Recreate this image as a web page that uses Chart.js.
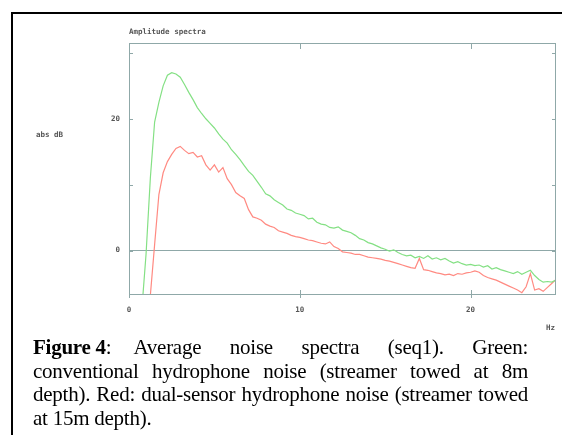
<!DOCTYPE html>
<html>
<head>
<meta charset="utf-8">
<script src="https://cdn.jsdelivr.net/npm/chart.js@4"></script>
<style>
  html, body { margin:0; padding:0; background:#fff; overflow:hidden; }
  body { width:562px; height:435px; position:relative; }
  .rule { position:absolute; background:#000; }
  #wrap { position:absolute; left:0; top:0; width:562px; height:435px; }
  .lab { position:absolute; font:bold 7.5px "DejaVu Sans Mono", monospace; color:#555; white-space:nowrap; }
  #caption { position:absolute; left:33px; top:336px; width:495px;
             font:21px "Liberation Serif", "Times New Roman", serif; letter-spacing:-0.25px;
             line-height:23.5px; color:#000; }
  #caption div { white-space:nowrap; }
  #caption .j { text-align:justify; text-align-last:justify; }
  .ib { display:inline-block; }
</style>
</head>
<body>
<div class="rule" style="left:11px;top:12px;width:551px;height:2px"></div>
<div class="rule" style="left:11px;top:12px;width:2px;height:423px"></div>
<div id="wrap"><canvas id="c" width="562" height="435"></canvas></div>
<div class="lab" style="left:129px;top:27px">Amplitude spectra</div>
<div class="lab" style="left:36px;top:130px">abs dB</div>
<div class="lab" style="left:546px;top:323px">Hz</div>
<div id="caption">
  <div class="j"><span class="ib"><b>Figure 4</b>:</span><span class="ib" style="width:22px"></span>Average noise spectra (seq1). Green:</div>
  <div class="j">conventional hydrophone noise (streamer towed at 8m</div>
  <div class="j">depth). Red: dual-sensor hydrophone noise (streamer towed</div>
  <div>at 15m depth).</div>
</div>
<script>
/* ─── données (Hz / dB) ────────────────────────────────────── */
const freqs = [
  0.75, 1.0, 1.25, 1.5, 1.75, 2.0, 2.25, 2.5, 2.75, 3.0, 3.25, 3.5, 3.75, 4.0, 4.25, 4.5, 4.75,
  5.0, 5.25, 5.5, 5.75, 6.0, 6.25, 6.5, 6.75, 7.0, 7.25, 7.5, 7.75, 8.0, 8.25, 8.5, 8.75,
  9.0, 9.25, 9.5, 9.75, 10.0, 10.25, 10.5, 10.75, 11.0, 11.25, 11.5, 11.75, 12.0, 12.25, 12.5, 12.75,
  13.0, 13.25, 13.5, 13.75, 14.0, 14.25, 14.5, 14.75, 15.0, 15.25, 15.5, 15.75, 16.0, 16.25, 16.5, 16.75,
  17.0, 17.25, 17.5, 17.75, 18.0, 18.25, 18.5, 18.75, 19.0, 19.25, 19.5, 19.75, 20.0, 20.25, 20.5, 20.75,
  21.0, 21.25, 21.5, 21.75, 22.0, 22.25, 22.5, 22.75, 23.0, 23.25, 23.5, 23.75, 24.0, 24.25, 24.5, 24.75, 25.0
];

const greenDb = [
  -9.0, -0.5, 11.0, 19.5, 22.5, 25.0, 26.6, 27.0, 26.8, 26.3, 25.2, 24.0, 22.9, 21.7, 20.8, 20.0, 19.3,
  18.6, 17.7, 16.9, 16.3, 15.3, 14.6, 13.8, 12.9, 12.0, 11.4, 10.5, 9.6, 8.6, 8.3, 7.7, 7.3,
  6.9, 6.3, 6.1, 5.7, 5.5, 5.3, 4.8, 4.9, 4.3, 4.0, 3.9, 3.5, 3.4, 3.6, 3.1, 2.9,
  2.7, 2.3, 1.8, 1.6, 1.2, 1.0, 0.7, 0.4, 0.2, -0.1, 0.1, -0.3, -0.6, -0.8, -0.7, -1.1,
  -0.9, -1.2, -0.8, -1.3, -1.1, -1.4, -1.2, -1.6, -1.9, -1.7, -2.0, -2.2, -2.1, -2.3, -2.2, -2.5,
  -2.3, -2.8, -2.6, -2.9, -3.1, -3.3, -3.5, -3.2, -3.6, -3.3, -3.0, -3.8, -4.4, -4.8, -4.7, -4.8, -4.5
];

const redDb = [
  -25.0, -15.0, -6.8, 0.9, 8.5, 11.8, 13.5, 14.6, 15.5, 15.8, 15.2, 14.7, 14.9, 14.2, 14.4, 13.0, 12.2,
  13.0, 11.9, 12.6, 10.9, 10.0, 8.8, 8.3, 7.9, 6.2, 5.1, 4.9, 4.6, 4.0, 3.7, 3.5, 3.0,
  2.8, 2.6, 2.3, 2.1, 2.0, 1.8, 1.6, 1.5, 1.3, 1.1, 1.0, 1.3, 0.6, 0.3, -0.2, -0.3,
  -0.4, -0.6, -0.6, -0.8, -1.0, -1.1, -1.2, -1.3, -1.5, -1.6, -1.8, -2.0, -2.2, -2.4, -2.6, -2.7,
  -1.2, -2.9, -3.0, -3.2, -3.4, -3.5, -3.7, -3.6, -3.8, -3.5, -3.6, -3.4, -3.3, -3.1, -3.3, -3.8,
  -4.1, -4.3, -4.5, -4.8, -5.1, -5.4, -5.7, -6.0, -6.4, -5.5, -3.5, -6.0, -5.8, -6.2, -5.6, -5.0, -4.4
];

const xTicks = [0, 10, 20];
const yTicks = [0, 10, 20, 30];
const yLabelled = [0, 20];

/* ─── style ────────────────────────────────────────────────── */
const axisCol = '#8fa8a8';
const tickFont = { family:'DejaVu Sans Mono', size:7.5, weight:'bold' };

const pts = ys => freqs.map((f, i) => ({ x: f, y: ys[i] }));

/* cadre + petits traits internes sur les 4 côtés */
const boxTicks = {
  id: 'boxTicks',
  afterDraw(chart) {
    const { ctx, chartArea: a, scales: { x, y } } = chart;
    ctx.save();
    ctx.strokeStyle = axisCol;
    ctx.lineWidth = 1;
    ctx.strokeRect(a.left + .5, a.top + .5, a.right - a.left - 1, a.bottom - a.top);
    ctx.beginPath();
    xTicks.forEach(v => {
      const px = Math.round(x.getPixelForValue(v)) + .5;
      ctx.moveTo(px, a.bottom - 4); ctx.lineTo(px, a.bottom + 4);
      ctx.moveTo(px, a.top); ctx.lineTo(px, a.top + 6);
    });
    yTicks.forEach(v => {
      const py = Math.round(y.getPixelForValue(v)) + .5;
      ctx.moveTo(a.left, py); ctx.lineTo(a.left + 4, py);
      ctx.moveTo(a.right - 4, py); ctx.lineTo(a.right, py);
    });
    ctx.stroke();
    ctx.restore();
  }
};

new Chart(document.getElementById('c'), {
  type: 'line',
  data: {
    datasets: [
      { label:'conventional (8m)', data: pts(greenDb), borderColor:'#84e084', borderWidth:1.2,
        pointRadius:0, tension:0 },
      { label:'dual-sensor (15m)', data: pts(redDb), borderColor:'#ff8a82', borderWidth:1.2,
        pointRadius:0, tension:0 }
    ]
  },
  plugins: [boxTicks],
  options: {
    responsive: false,
    animation: false,
    layout: { padding: { left: 89, right: 6, top: 43, bottom: 111 } },
    plugins: { legend: { display:false }, tooltip: { enabled:false } },
    scales: {
      x: {
        type: 'linear', min: 0, max: 25,
        afterBuildTicks: s => { s.ticks = xTicks.map(v => ({ value: v })); },
        afterFit: s => { s.height = 30; },
        border: { display:false },
        grid: { drawOnChartArea:false, drawTicks:false },
        ticks: { color:'#555', font: tickFont, padding: 12, maxRotation:0 }
      },
      y: {
        type: 'linear', min: -6.6, max: 31.5,
        afterBuildTicks: s => { s.ticks = yTicks.map(v => ({ value: v })); },
        afterFit: s => { s.width = 40; },
        border: { display:false },
        grid: { drawTicks:false, lineWidth:1,
                color: c => c.tick && c.tick.value === 0 ? axisCol : 'rgba(0,0,0,0)' },
        ticks: { color:'#555', font: tickFont, padding: 9,
                 callback: v => yLabelled.includes(v) ? String(v) : '' }
      }
    }
  }
});
</script>
</body>
</html>
